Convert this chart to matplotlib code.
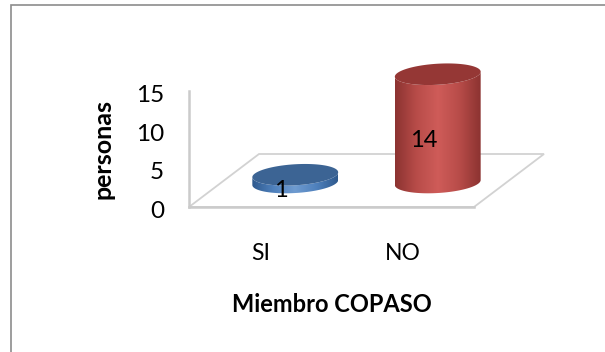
import numpy as np
import matplotlib
matplotlib.use("Agg")
import matplotlib.pyplot as plt
from matplotlib.patches import Polygon, Rectangle
from matplotlib.colors import LinearSegmentedColormap
from matplotlib.transforms import Affine2D

categories = ["SI", "NO"]
values = [1, 14]
y_ticks = [0, 5, 10, 15]
x_title = "Miembro COPASO"
y_title = "personas"
side_colors = [["#2f5a8e", "#4f81bd", "#6f9bd0", "#4f81bd", "#2f5a8e"],
               ["#8c3331", "#b84c49", "#cf5c59", "#b84c49", "#8c3331"]]
top_colors = ["#3c6494", "#953735"]

W, H = 605, 352
plt.rcParams["font.family"] = ["Lato", "DejaVu Sans"]
fig = plt.figure(figsize=(W / 100, H / 100), dpi=100, facecolor="white")
fig.add_artist(Rectangle((11 / W, -0.02), 0.99, (347 + 7) / H, transform=fig.transFigure,
                         fc="white", ec="#8c8c8c", lw=1.2, zorder=-1))
ax = fig.add_axes([189 / W, (H - 207) / H, 285 / W, 116 / H])
ax.set_xlim(0, 2)
ax.set_ylim(0, 15)
ax.set_facecolor("none")
for s in ax.spines.values():
    s.set_visible(False)

px_x = 285 / 2
px_y = 116 / 15
depth_x = 70 / px_x
depth_y = 53 / px_y

# floor and wall
ax.add_patch(Polygon([(0, 0), (2, 0), (2 + depth_x, depth_y), (depth_x, depth_y)], closed=True,
                     fc="white", ec="#d2d2d2", lw=1.3, clip_on=False, zorder=1))
ax.plot([0, 0], [0, 15], color="#cbcbcb", lw=1.8, clip_on=False, zorder=1.5)
ax.plot([0, 2], [0, 0], color="#cbcbcb", lw=1.8, clip_on=False, zorder=1.5)


def ellipse(cx, cv, t):
    a, b, ang = 43.0, 10.5, np.radians(3.5)
    xp = a * np.cos(t) * np.cos(ang) - b * np.sin(t) * np.sin(ang)
    yp = a * np.cos(t) * np.sin(ang) + b * np.sin(t) * np.cos(ang)
    return cx + xp / px_x, cv + yp / px_y


for i, (val, cols, top) in enumerate(zip(values, side_colors, top_colors)):
    cx = i + 0.5 + depth_x / 2
    cv = depth_y / 2 - 2 / px_y
    t_low = np.linspace(np.pi, 2 * np.pi, 80)
    bx, by = ellipse(cx, cv, t_low)
    tx, ty = ellipse(cx, cv + val, t_low[::-1])
    body = Polygon(np.column_stack([np.r_[bx, tx], np.r_[by, ty]]), closed=True,
                   fc="none", ec="none", transform=ax.transData, clip_on=False)
    ax.add_patch(body)
    cmap = LinearSegmentedColormap.from_list("c", cols)
    im = ax.imshow(np.linspace(0, 1, 128)[None, :], cmap=cmap, aspect="auto", zorder=3,
                   extent=[bx.min(), bx.max(), cv - 3, cv + val + 3])
    im.set_clip_box(fig.bbox)
    im.set_clip_path(body)
    fx, fy = ellipse(cx, cv + val, np.linspace(0, 2 * np.pi, 160))
    ax.add_patch(Polygon(np.column_stack([fx, fy]), closed=True, fc=top, ec="none",
                         clip_on=False, zorder=4))
    ax.text(i + 0.645, val / 2 + 1.6, str(val), ha="center", va="center",
            fontsize=17, color="black", zorder=6)

ax.set_xlim(0, 2)
ax.set_ylim(0, 15)
ax.set_xticks([0.5, 1.5], categories, fontsize=16.5)
ax.set_yticks(y_ticks, [str(v) for v in y_ticks], fontsize=17.5)
ax.tick_params(axis="both", length=0, colors="black")
ax.tick_params(axis="x", pad=26)
ax.tick_params(axis="y", pad=18)
for lbl in ax.get_yticklabels():
    lbl.set_transform(lbl.get_transform() + Affine2D().translate(0, -2.5))
ax.set_xlabel(x_title, fontsize=17, fontweight="bold", va="center")
ax.xaxis.set_label_coords(0.5, (207 - 304) / 116)
ax.set_ylabel(y_title, fontsize=18, fontweight="bold", va="center")
ax.yaxis.set_label_coords((103 - 189) / 285, 0.5)

fig.savefig("out.png", dpi=100, facecolor="white")
